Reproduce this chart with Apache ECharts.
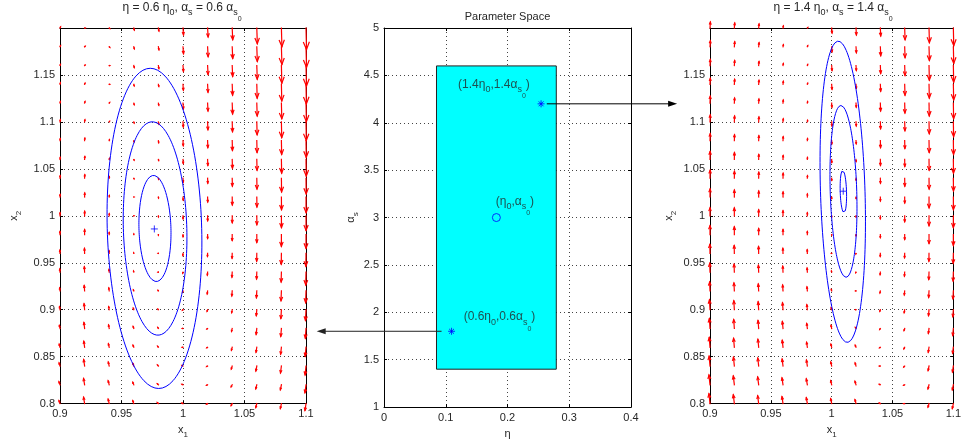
<!DOCTYPE html>
<html><head><meta charset="utf-8">
<script src="https://cdn.jsdelivr.net/npm/echarts@6.0.0/dist/echarts.min.js"></script>
<style>html,body{margin:0;padding:0;background:#fff}#c{width:964px;height:444px}</style>
</head><body><div id="c"></div>
<script>
// ---------------- data ----------------
// quiver grid (x1 columns, x2 rows from top to bottom)
const x1Cols = [0.9, 0.92, 0.94, 0.96, 0.98, 1.0, 1.02, 1.04, 1.06, 1.08, 1.1];
const x2Rows = [1.2, 1.18, 1.16, 1.14, 1.12, 1.1, 1.08, 1.06, 1.04, 1.02, 1.0, 0.98, 0.96, 0.94, 0.92, 0.9, 0.88, 0.86, 0.84, 0.82, 0.8];
// vertical arrow components (units of 1e-3 in x2), one array per x1 column, rows top->bottom
const leftV = [
  [1,1,1,1.5,1.5,2,2,2,2.5,2.5,3,3,3,3,3,3,3,3,3,3,3],
  [0,0.5,0.5,1,1.5,2,2.5,3,3.5,4,4.5,5,5,5.5,5.5,6,6,6,6.5,6.5,6.5],
  [-0.5,-0.5,0,0,0.5,0.5,1,1,1.5,1.5,2,2,2.5,2.5,3,3,3.5,3.5,4,4,4.5],
  [-2,-2,-2,-1.5,-1.5,-1,-1,-0.5,-0.5,0,0,0.5,0.5,1,1,1.5,2,2,2.5,2.5,3],
  [-3,-3,-3,-2,-2,-2,-2,-1,-1,-1,-1,-0.5,0,0,0.5,0.5,1,1,1,1,1],
  [-7,-7,-6,-6,-6,-5,-5,-4,-4,-3,-3,-2,-2,-1,-1,-0.5,0,0,0.5,0.5,0.5],
  [-9,-10,-9,-8,-8,-8,-7,-6,-5,-5,-5,-4,-3,-3,-3,-1.5,-0.5,-0.5,-0.5,-0.5,-0.5],
  [-12,-12,-11,-11,-11,-10,-10,-9,-8,-8,-7,-6,-5,-5,-5,-3,-3,-3,-3,-2,-2],
  [-16,-15,-14,-14,-13,-13,-12,-11,-11,-10,-9,-8,-8,-7,-7,-6,-6,-5,-5,-4,-4],
  [-19,-18,-18,-17,-16,-16,-14,-14,-14,-13,-12,-12,-11,-10,-10,-9,-8,-7,-7,-5,-5],
  [-22,-21,-21,-20,-19,-19,-17,-17,-16,-16,-15,-14,-13,-13,-12,-11,-10,-9,-9,-8,-7]
];
const rightV = [
  [6,6,6,6,7,7,7,8,8,8,8,9,9,9,9,10,10,10,10,10,10],
  [5,5,5,5,5,6,6,7,7,7,8,8,8,8,8,9,9,9,9,9,9],
  [4,4,4,4,4,5,5,5,6,6,6,6,7,7,7,8,8,8,8,8,8],
  [2,2,2,3,3,3,4,4,5,5,5,5,5,6,6,7,7,7,7,7,7],
  [0.5,1,1,1,1.5,1.5,2,2,2.5,3,3,3,3.5,4,4,5,5,5,6,6,6],
  [-5,-5,-5,-5,-4,-4,-3,-3,-2,-1.5,-1,-0.5,0,1,1.5,2,3,3,4,4,5],
  [-7,-6,-5,-4,-4,-4,-3,-2,-2,-1.5,-1,-1,-0.5,-0.5,0,0,1,2,3,3.5,4],
  [-8,-9,-8,-7,-8,-7,-7,-6,-5,-4,-3,-3,-3,-2.5,-2,-1.5,-1,-0.5,0,0.5,0.5],
  [-12,-11,-10,-11,-10,-9,-8,-7,-8,-6,-6,-5,-4.5,-4,-4,-3,-2,-1.5,-1,-0.5,0],
  [-15,-14,-15,-14,-13,-12,-12,-11,-11,-11,-10,-9,-8,-7.5,-6.5,-6,-5,-5,-4.5,-4,-3.5],
  [-18,-17,-17,-16,-16,-15,-14,-14,-13,-13,-12,-11,-10,-9,-8,-7,-7,-6,-6,-5,-5]
];
// horizontal arrow components (units of 1e-3 in x1), one value per row
const leftU  = [0.4,0.4,0.35,0.3,0.3,0.25,0.2,0.2,0.15,0.1,0.05,0,-0.1,-0.2,-0.3,-0.4,-0.5,-0.6,-0.7,-0.8,-0.8];
const rightU = [0.3,0.3,0.25,0.25,0.2,0.2,0.15,0.1,0.1,0.05,0,0,-0.1,-0.2,-0.3,-0.4,-0.5,-0.6,-0.7,-0.8,-0.8];
// level-set contours: centre x1, centre x2, half width, half height
const leftContCx = [0.9772, 0.9773, 0.9768];
const leftContCy = [0.9865, 0.9865, 0.9866];
const leftContRx = [0.013, 0.0258, 0.0384];
const leftContRy = [0.0565, 0.1136, 0.1705];
const rightContCx = [1.0096, 1.0097, 1.0091];
const rightContCy = [1.0258, 1.026, 1.0256];
const rightContRx = [0.0026, 0.0109, 0.0183];
const rightContRy = [0.0226, 0.0915, 0.1604];
const leftSkew = -0.02, rightSkew = -0.023;
// equilibria
const leftEq = [0.9767, 0.986];
const rightEq = [1.0095, 1.0262];
// parameter space
const rectEta = [0.085, 0.279];
const rectAlpha = [1.4, 4.6];
const paramEta = [0.1094, 0.182, 0.2544];
const paramAlpha = [1.8, 3.0, 4.2];
const labelEta = [0.129, 0.181, 0.12];
const labelAlpha = [1.95, 3.17, 4.4];
const labelText = ['{n|(0.6η}{s|0}{n|,0.6α}{s|s}{ss|0}{n|)}', '{n|(η}{s|0}{n|,α}{s|s}{ss|0}{n|)}', '{n|(1.4η}{s|0}{n|,1.4α}{s|s}{ss|0}{n|)}'];

// ---------------- chart ----------------
const FONT = '"Liberation Sans", Arial, Helvetica, sans-serif';
const TXT = '#262626';
function richSet(main, sub, subsub, p1, p2) {
  return {
    n: {fontSize: main, fontFamily: FONT, color: TXT, fill: TXT, verticalAlign: 'top'},
    s: {fontSize: sub, fontFamily: FONT, color: TXT, fill: TXT, verticalAlign: 'top', padding: [p1, 0, 0, 0]},
    ss: {fontSize: subsub, fontFamily: FONT, color: TXT, fill: TXT, verticalAlign: 'top', padding: [p2, 0, 0, 0]}
  };
}
const RICH = richSet(11, 8, 6, 6.5, 14);
const RICH_BIG = richSet(12, 9, 7, 6.5, 14);
const grids = [
  {left: 60, top: 28, width: 246, height: 385},
  {left: 384, top: 28, width: 247, height: 385},
  {left: 710, top: 28, width: 246, height: 385}
];
const axCol = '#000';
const split = {show: true, lineStyle: {color: '#444', type: [1, 3], width: 1}};
function fmtY(v) { return v > 1.199 ? '' : String(+v.toFixed(2)); }
function xMain(g, min, max, iv, name) {
  return {type: 'value', gridIndex: g, min, max, interval: iv, position: 'bottom',
    axisLine: {show: true, onZero: false, lineStyle: {color: axCol, width: 1}},
    axisTick: {show: true, inside: true, length: 3, lineStyle: {color: axCol}},
    axisLabel: {color: TXT, fontSize: 11, fontFamily: FONT, margin: 5},
    splitLine: split,
    name, nameLocation: 'middle', nameGap: 16, nameTextStyle: {rich: RICH}};
}
function xTop(g, min, max, iv) {
  return {type: 'value', gridIndex: g, min, max, interval: iv, position: 'top',
    axisLine: {show: true, onZero: false, lineStyle: {color: axCol, width: 1}},
    axisTick: {show: true, inside: true, length: 3, lineStyle: {color: axCol}},
    axisLabel: {show: false}, splitLine: {show: false}};
}
function yMain(g, min, max, iv, name, gap, fmt) {
  return {type: 'value', gridIndex: g, min, max, interval: iv, position: 'left',
    axisLine: {show: true, onZero: false, lineStyle: {color: axCol, width: 1}},
    axisTick: {show: true, inside: true, length: 3, lineStyle: {color: axCol}},
    axisLabel: {color: TXT, fontSize: 11, fontFamily: FONT, margin: 5, formatter: fmt},
    splitLine: split,
    name, nameLocation: 'middle', nameGap: gap, nameTextStyle: {rich: RICH}};
}
function yRight(g, min, max, iv) {
  return {type: 'value', gridIndex: g, min, max, interval: iv, position: 'right',
    axisLine: {show: true, onZero: false, lineStyle: {color: axCol, width: 1}},
    axisTick: {show: true, inside: true, length: 3, lineStyle: {color: axCol}},
    axisLabel: {show: false}, splitLine: {show: false}};
}

function quiverSeries(ax, colV, rowU) {
  const data = [];
  x1Cols.forEach((x, i) => x2Rows.forEach((y, j) => data.push([x, y, rowU[j], colV[i][j]])));
  return {
    type: 'custom', xAxisIndex: ax, yAxisIndex: ax, data, z: 3, clip: false,
    encode: {x: 0, y: 1},
    renderItem: function (params, api) {
      const x = api.value(0), y = api.value(1), u = api.value(2), v = api.value(3);
      const S = 1.04e-3;
      const p0 = api.coord([x, y]);
      const p1 = api.coord([x + u * S, y + v * S]);
      const dx = p1[0] - p0[0], dy = p1[1] - p0[1];
      const a = 0.33, b = 0.4;
      const h1 = [p1[0] - a * (dx + b * dy), p1[1] - a * (dy - b * dx)];
      const h2 = [p1[0] - a * (dx - b * dy), p1[1] - a * (dy + b * dx)];
      const st = {stroke: '#ff0000', lineWidth: 1.2, fill: null, lineCap: 'square'};
      return {type: 'group', children: [
        {type: 'line', shape: {x1: p0[0], y1: p0[1], x2: p1[0], y2: p1[1]}, style: st},
        {type: 'polyline', shape: {points: [h1, p1, h2]}, style: st}
      ]};
    }
  };
}
function contourSeries(ax, cx, cy, rx, ry, skew) {
  const out = [];
  for (let c = 0; c < cx.length; c++) {
    const pts = [];
    for (let k = 0; k <= 160; k++) {
      const t = 2 * Math.PI * k / 160;
      const y = cy[c] + ry[c] * Math.sin(t);
      pts.push([cx[c] + rx[c] * Math.cos(t) + skew * (y - cy[c]), y]);
    }
    out.push({type: 'line', xAxisIndex: ax, yAxisIndex: ax, data: pts, showSymbol: false, z: 4,
      lineStyle: {color: '#0000ff', width: 1}, silent: true});
  }
  return out;
}
const plusPath = 'path://M0,5L10,5M5,0L5,10';
const starPath = 'path://M0,5L10,5M5,0L5,10M1.5,1.5L8.5,8.5M1.5,8.5L8.5,1.5';

const chart = echarts.init(document.getElementById('c'), null, {renderer: 'canvas'});
const option = {
  animation: false,
  backgroundColor: '#fff',
  grid: grids,
  xAxis: [
    xMain(0, 0.9, 1.1, 0.05, '{n|x}{s|1}'),
    xMain(1, 0, 0.4, 0.1, '{n|η}'),
    xMain(2, 0.9, 1.1, 0.05, '{n|x}{s|1}'),
    xTop(0, 0.9, 1.1, 0.05), xTop(1, 0, 0.4, 0.1), xTop(2, 0.9, 1.1, 0.05)
  ],
  yAxis: [
    yMain(0, 0.8, 1.2, 0.05, '{n|x}{s|2}', 37, fmtY),
    yMain(1, 1, 5, 0.5, '{n|α}{s|s}', 19),
    yMain(2, 0.8, 1.2, 0.05, '{n|x}{s|2}', 32, fmtY),
    yRight(0, 0.8, 1.2, 0.05), yRight(1, 1, 5, 0.5), yRight(2, 0.8, 1.2, 0.05)
  ],
  series: [
    quiverSeries(0, leftV, leftU),
    quiverSeries(2, rightV, rightU),
    ...contourSeries(0, leftContCx, leftContCy, leftContRx, leftContRy, leftSkew),
    ...contourSeries(2, rightContCx, rightContCy, rightContRx, rightContRy, rightSkew),
    {type: 'scatter', xAxisIndex: 0, yAxisIndex: 0, data: [leftEq], symbol: plusPath, symbolSize: 7, z: 5,
      itemStyle: {color: 'none', borderColor: '#0000ff', borderWidth: 1}},
    {type: 'scatter', xAxisIndex: 2, yAxisIndex: 2, data: [rightEq], symbol: plusPath, symbolSize: 7, z: 5,
      itemStyle: {color: 'none', borderColor: '#0000ff', borderWidth: 1}},
    {type: 'custom', xAxisIndex: 1, yAxisIndex: 1, z: 2,
      data: [[rectEta[0], rectAlpha[0], rectEta[1], rectAlpha[1]]],
      renderItem: function (params, api) {
        const a = api.coord([api.value(0), api.value(1)]);
        const b = api.coord([api.value(2), api.value(3)]);
        return {type: 'rect', shape: {x: a[0], y: b[1], width: b[0] - a[0], height: a[1] - b[1]},
          style: {fill: '#00ffff', stroke: '#222', lineWidth: 1}};
      }},
    {type: 'scatter', xAxisIndex: 1, yAxisIndex: 1, z: 5,
      data: [[paramEta[0], paramAlpha[0]], [paramEta[2], paramAlpha[2]]],
      symbol: starPath, symbolSize: 7, itemStyle: {color: 'none', borderColor: '#0000ff', borderWidth: 1}},
    {type: 'scatter', xAxisIndex: 1, yAxisIndex: 1, z: 5,
      data: [[paramEta[1], paramAlpha[1]]],
      symbol: 'circle', symbolSize: 8, itemStyle: {color: 'none', borderColor: '#0000ff', borderWidth: 1}},
    {type: 'scatter', xAxisIndex: 1, yAxisIndex: 1, z: 6, symbolSize: 0, silent: true,
      data: labelEta.map((e, i) => ({value: [e, labelAlpha[i]], label: {formatter: labelText[i]}})),
      label: {show: true, position: [0, 0], align: 'left', verticalAlign: 'top', offset: [0, -6], rich: RICH_BIG}}
  ]
};
chart.setOption(option);

// titles and annotation arrows
const topStart = chart.convertToPixel({gridIndex: 1}, [0.2636, paramAlpha[2]]);
const topEndX = chart.convertToPixel({xAxisIndex: 2}, 0.873);
const botStart = chart.convertToPixel({gridIndex: 1}, [0.0932, paramAlpha[0]]);
const botEndX = chart.convertToPixel({xAxisIndex: 0}, 1.1087);
function arrow(x1, y1, x2, y2, col) {
  const dir = Math.sign(x2 - x1);
  return [
    {type: 'line', shape: {x1, y1, x2: x2 - dir * 6, y2}, style: {stroke: col, lineWidth: 1}, z: 50},
    {type: 'polygon', shape: {points: [[x2, y2], [x2 - dir * 9, y2 - 3], [x2 - dir * 9, y2 + 3]]}, style: {fill: col}, z: 50}
  ];
}
const graphic = [
  {type: 'text', x: 182, y: 2, z: 50, style: {text: '{n|η = 0.6 η}{s|0}{n|, α}{s|s}{n| = 0.6 α}{s|s}{ss|0}', rich: RICH_BIG, align: 'center', verticalAlign: 'top', font: '12px ' + FONT, fill: TXT}},
  {type: 'text', x: 507.5, y: 11, z: 50, style: {text: 'Parameter Space', align: 'center', verticalAlign: 'top', font: '11px ' + FONT, fill: TXT}},
  {type: 'text', x: 833, y: 2, z: 50, style: {text: '{n|η = 1.4 η}{s|0}{n|, α}{s|s}{n| = 1.4 α}{s|s}{ss|0}', rich: RICH_BIG, align: 'center', verticalAlign: 'top', font: '12px ' + FONT, fill: TXT}},
  ...arrow(topStart[0], topStart[1], topEndX, topStart[1], '#000'),
  ...arrow(botStart[0], botStart[1], botEndX, botStart[1], '#222')
];
chart.setOption({graphic});
</script>
</body></html>
